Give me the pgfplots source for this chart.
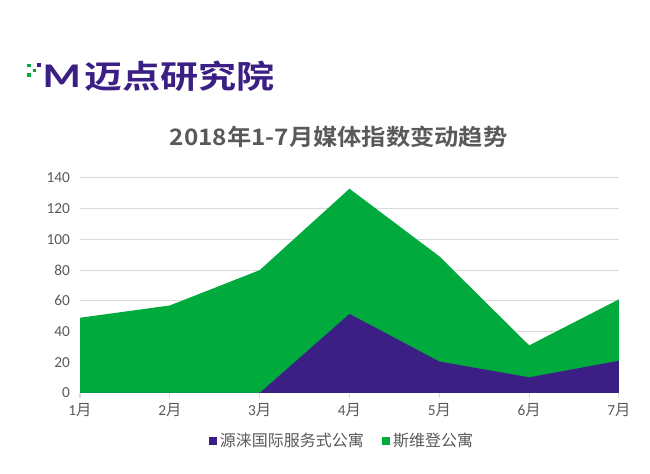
\documentclass[border=0pt]{standalone}
\usepackage{pgfplots}
\pgfplotsset{compat=1.18}
\usepackage{fontspec}
\setmainfont{Carlito}
\newfontfamily\cjk{Noto Sans CJK SC}
\newfontfamily\cjkb{Noto Sans CJK SC Bold}
\definecolor{mgreen}{HTML}{00AA3C}
\definecolor{mpurple}{HTML}{3B1F84}
\definecolor{tgray}{HTML}{595959}
\definecolor{ggray}{HTML}{D9D9D9}
\begin{document}
\begin{tikzpicture}
\path (0,0) rectangle (487.5pt,355.5pt);
% logo
\fill[mgreen] (20.5pt,305pt) rectangle ++(2.4pt,2.4pt);
\fill[mgreen] (24.5pt,301.5pt) rectangle ++(2.4pt,2.4pt);
\fill[mgreen] (20.5pt,298pt) rectangle ++(2.4pt,2.4pt);
\fill[mpurple] (27.5pt,305pt) rectangle ++(3pt,3pt);
\node[anchor=west,inner sep=0pt,text=mpurple] at (32pt,298.5pt) {\scalebox{1.25}[1.0]{\fontsize{26pt}{26pt}\selectfont\bfseries M}};
\node[anchor=west,inner sep=0pt,text=mpurple] at (63pt,298.5pt) {\scalebox{1.19}[1.0]{\cjkb\fontsize{24pt}{24pt}\selectfont 迈点研究院}};
% title
\node[text=tgray] at (254pt,252.75pt) {\scalebox{1.07}[1.0]{\cjkb\fontsize{17pt}{18pt}\selectfont 2018年1-7月媒体指数变动趋势}};
\begin{axis}[
  at={(60pt,60.75pt)}, anchor=south west,
  scale only axis, width=404.25pt, height=161.25pt,
  xmin=0, xmax=6, ymin=0, ymax=140,
  xtick={0,...,6},
  xticklabels={{1{\cjk 月}},{2{\cjk 月}},{3{\cjk 月}},{4{\cjk 月}},{5{\cjk 月}},{6{\cjk 月}},{7{\cjk 月}}},
  ytick={0,20,...,140},
  ymajorgrids, grid style={ggray, line width=0.75pt},
  axis x line*=bottom, axis y line*=left,
  x axis line style={ggray, line width=0.75pt, -},
  y axis line style={draw=none},
  xtick style={ggray, line width=0.75pt},
  major tick length=4pt,
  tick align=outside,
  ytick style={draw=none},
  tick label style={text=tgray, font=\fontsize{11.5pt}{13pt}\selectfont},
  /pgf/number format/assume math mode=true,
  legend style={at={(0.487,-0.223)}, anchor=center, draw=none, fill=none,
    legend columns=2, font=\cjk\fontsize{12pt}{14pt}\selectfont, text=tgray,
    /tikz/every even column/.style={column sep=12pt}},
  legend cell align=left,
  area legend,
  legend image code/.code={\fill[#1] (0pt,-3pt) rectangle (6pt,3pt);},
]
\addplot[fill=mgreen, draw=none, forget plot] coordinates {(0,49) (1,57) (2,80) (3,133) (4,89) (5,31) (6,61)} \closedcycle;
\addplot[fill=mpurple, draw=none] coordinates {(0,0) (1,0) (2,0) (3,51.5) (4,20.5) (5,10.2) (6,21)} \closedcycle;
\addlegendentry{源涞国际服务式公寓}
\addlegendimage{fill=mgreen, draw=none}
\addlegendentry{斯维登公寓}
\end{axis}
\end{tikzpicture}
\end{document}
